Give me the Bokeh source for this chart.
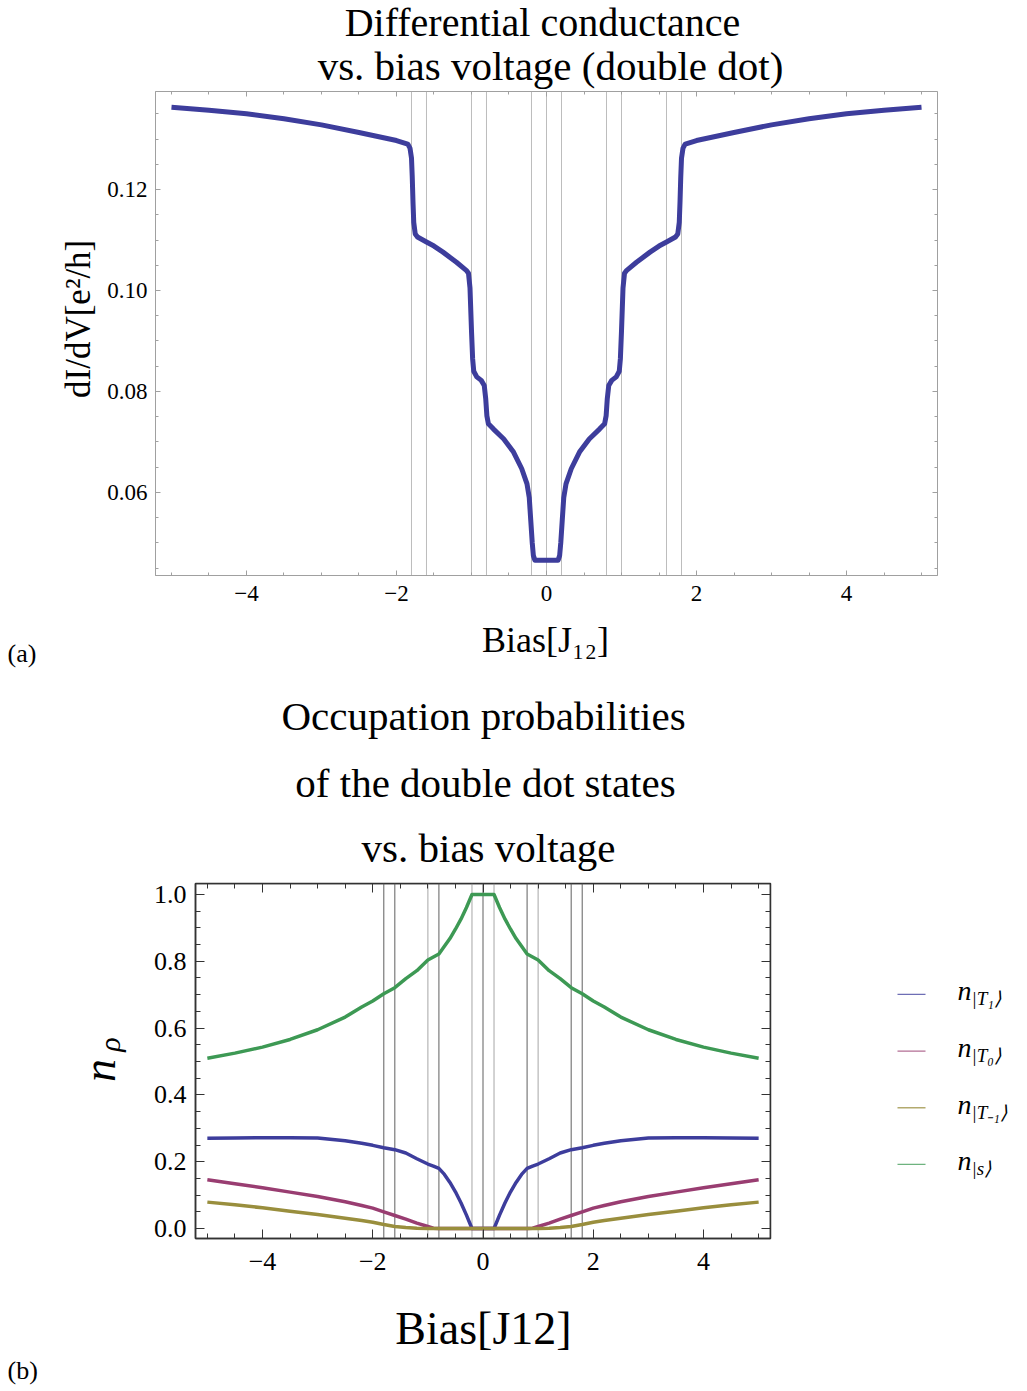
import math
from bokeh.plotting import figure
from bokeh.models import (Range1d, LinearAxis, SingleIntervalTicker, PrintfTickFormatter,
                          Span, Label)
from bokeh.layouts import column, row
from bokeh.embed import file_html
from bokeh.resources import INLINE

# ---------------- data: (a) differential conductance ----------------
bias_a = [-5.0, -4.5, -4.0, -3.5, -3.0, -2.5, -2.0, -1.85, -1.82, -1.80, -1.79, -1.78, -1.77,
          -1.75, -1.72, -1.6, -1.5, -1.38, -1.2, -1.07, -1.04, -1.02, -1.00, -0.985, -0.97,
          -0.93, -0.87, -0.83, -0.81, -0.795, -0.775, -0.71, -0.57, -0.44, -0.33, -0.26,
          -0.23, -0.21, -0.19, -0.175, -0.155,
          0.155, 0.175, 0.19, 0.21, 0.23, 0.26, 0.33, 0.44, 0.57, 0.71, 0.775, 0.795, 0.81,
          0.83, 0.87, 0.93, 0.97, 0.985, 1.00, 1.02, 1.04, 1.07, 1.2, 1.38, 1.5, 1.6, 1.72,
          1.75, 1.77, 1.78, 1.79, 1.80, 1.82, 1.85, 2.0, 2.5, 3.0, 3.5, 4.0, 4.5, 5.0]
dIdV = [0.1363, 0.1357, 0.1350, 0.1340, 0.1328, 0.1313, 0.1297, 0.1290, 0.1282, 0.1262, 0.1225,
        0.1175, 0.1135, 0.1112, 0.1106, 0.1096, 0.1088, 0.1076, 0.1056, 0.1040, 0.1034, 0.1005,
        0.0920, 0.0865, 0.0840, 0.0829, 0.0822, 0.0812, 0.0785, 0.0752, 0.0736, 0.0726, 0.0706,
        0.0680, 0.0647, 0.0617, 0.0590, 0.0545, 0.0500, 0.0475, 0.0466,
        0.0466, 0.0475, 0.0500, 0.0545, 0.0590, 0.0617, 0.0647, 0.0680, 0.0706, 0.0726, 0.0736,
        0.0752, 0.0785, 0.0812, 0.0822, 0.0829, 0.0840, 0.0865, 0.0920, 0.1005, 0.1034, 0.1040,
        0.1056, 0.1076, 0.1088, 0.1096, 0.1106, 0.1112, 0.1135, 0.1175, 0.1225, 0.1262, 0.1282,
        0.1290, 0.1297, 0.1313, 0.1328, 0.1340, 0.1350, 0.1357, 0.1363]

# transition energies marked by vertical lines
transitions = [-1.8, -1.6, -1.0, -0.8, -0.2, 0.0, 0.2, 0.8, 1.0, 1.6, 1.8]

# ---------------- data: (b) occupation probabilities ----------------
bias_b = [-5.0, -4.5, -4.0, -3.5, -3.0, -2.5, -2.2, -2.0, -1.8, -1.6, -1.4, -1.2, -1.0, -0.9,
          -0.8, -0.7, -0.6, -0.5, -0.4, -0.3, -0.2, 0.0, 0.2, 0.3, 0.4, 0.5, 0.6, 0.7, 0.8,
          0.9, 1.0, 1.2, 1.4, 1.6, 1.8, 2.0, 2.2, 2.5, 3.0, 3.5, 4.0, 4.5, 5.0]
n_T1 = [0.270, 0.271, 0.272, 0.272, 0.271, 0.263, 0.255, 0.249, 0.242, 0.236, 0.226, 0.209,
        0.193, 0.187, 0.180, 0.162, 0.138, 0.110, 0.077, 0.040, 0.0, 0.0, 0.0, 0.040, 0.077,
        0.110, 0.138, 0.162, 0.180, 0.187, 0.193, 0.209, 0.226, 0.236, 0.242, 0.249, 0.255,
        0.263, 0.271, 0.272, 0.272, 0.271, 0.270]
n_T0 = [0.146, 0.134, 0.122, 0.109, 0.096, 0.080, 0.069, 0.061, 0.050, 0.039, 0.028, 0.016,
        0.006, 0.001, 0.0, 0.0, 0.0, 0.0, 0.0, 0.0, 0.0, 0.0, 0.0, 0.0, 0.0, 0.0, 0.0, 0.0,
        0.0, 0.001, 0.006, 0.016, 0.028, 0.039, 0.050, 0.061, 0.069, 0.080, 0.096, 0.109,
        0.122, 0.134, 0.146]
n_Tm1 = [0.079, 0.071, 0.062, 0.052, 0.042, 0.031, 0.024, 0.019, 0.012, 0.006, 0.003, 0.001,
         0.0, 0.0, 0.0, 0.0, 0.0, 0.0, 0.0, 0.0, 0.0, 0.0, 0.0, 0.0, 0.0, 0.0, 0.0, 0.0, 0.0,
         0.0, 0.0, 0.001, 0.003, 0.006, 0.012, 0.019, 0.024, 0.031, 0.042, 0.052, 0.062,
         0.071, 0.079]
n_S = [0.510, 0.525, 0.543, 0.566, 0.595, 0.633, 0.663, 0.681, 0.703, 0.721, 0.748, 0.772,
       0.804, 0.813, 0.822, 0.845, 0.868, 0.896, 0.926, 0.961, 1.0, 1.0, 1.0, 0.961, 0.926,
       0.896, 0.868, 0.845, 0.822, 0.813, 0.804, 0.772, 0.748, 0.721, 0.703, 0.681, 0.663,
       0.633, 0.595, 0.566, 0.543, 0.525, 0.510]
legend_subs = ["|T\u2081\u27e9", "|T\u2080\u27e9", "|T\u208b\u2081\u27e9", "|s\u27e9"]

BLUE, MAG, OLIVE, GREEN = "#3d3d9c", "#993d71", "#998e3d", "#3d9954"
SERIF = "Liberation Serif"
MID = 0.36  # distance (in em) from the alphabetic baseline up to the text middle


def base_fig(w, h, **kw):
    f = figure(width=w, height=h, output_backend="svg", toolbar_location=None, title=None, **kw)
    f.background_fill_color = "white"
    f.border_fill_color = "white"
    return f


def strip(w, h, x0, y0):
    """A text-only panel whose data coordinates equal page pixels."""
    f = base_fig(w, h, x_range=Range1d(x0, x0 + w), y_range=Range1d(y0 + h, y0),
                 x_axis_type=None, y_axis_type=None,
                 min_border=0, min_border_left=0, min_border_right=0,
                 min_border_top=0, min_border_bottom=0)
    f.grid.visible = False
    f.outline_line_color = None
    return f


def lab(p, x, y, text, size, align="center", angle=0.0, style="normal", yfix=0.0):
    """Place text whose alphabetic baseline is at page y (horizontal) or page x (rotated)."""
    if angle == 0.0:
        y = y - MID * size
    else:
        x = x - MID * size
        y = y + yfix
    p.add_layout(Label(x=x, y=y, text=text, text_font=SERIF, text_font_size=f"{size}px",
                       text_align=align, text_baseline="middle", angle=angle,
                       text_font_style=style, text_color="black"))


def setup_axes(p, xr, yr, xint, yint, yfmt, col, lw, tin, tmin, fsize, so_x, so_y):
    bx = p.xaxis[0]
    ly = p.yaxis[0]
    bx.ticker = SingleIntervalTicker(interval=xint, num_minor_ticks=4)
    ly.ticker = SingleIntervalTicker(interval=yint, num_minor_ticks=4)
    bx.major_label_overrides = {-4: "\u22124", -2: "\u22122"}
    ly.formatter = PrintfTickFormatter(format=yfmt)
    bx.major_label_standoff = so_x
    ly.major_label_standoff = so_y
    top = LinearAxis(ticker=SingleIntervalTicker(interval=xint, num_minor_ticks=4),
                     fixed_location=yr[1])
    right = LinearAxis(ticker=SingleIntervalTicker(interval=yint, num_minor_ticks=4),
                       fixed_location=xr[1])
    p.add_layout(top, "above")
    p.add_layout(right, "right")
    for ax in (bx, ly, top, right):
        ax.axis_line_color = col
        ax.axis_line_width = lw
        ax.major_tick_line_color = col
        ax.minor_tick_line_color = col
        ax.major_tick_line_width = 1
        ax.minor_tick_line_width = 1
        ax.major_tick_in = tin
        ax.major_tick_out = 0
        ax.minor_tick_in = tmin
        ax.minor_tick_out = 0
        ax.major_label_text_font = SERIF
        ax.major_label_text_font_size = fsize
        ax.major_label_text_color = "black"
    for ax in (top, right):
        ax.major_label_text_color = None
    p.xgrid.grid_line_color = None
    p.ygrid.grid_line_color = None
    p.outline_line_color = col
    p.outline_line_width = lw


# ================= section (a) =================
XA = (-5.213, 5.213)
YA = (0.04356, 0.13941)

tA = strip(1027, 89, 0, 0)
lab(tA, 542, 36, "Differential conductance", 40)
lab(tA, 550, 80, "vs. bias voltage (double dot)", 41)

sA = strip(97, 528, 0, 89)
lab(sA, 91, 320, "dI/dV[e\u00b2/h]", 35, angle=math.pi / 2, yfix=17)

pA = base_fig(930, 528, x_range=Range1d(*XA), y_range=Range1d(*YA),
              min_border_left=58, min_border_right=90, min_border_top=2, min_border_bottom=42)
setup_axes(pA, XA, YA, 2, 0.02, "%.2f", "#a0a0a0", 1, 5, 3, "23px", 10, 8)
for v in transitions:
    pA.add_layout(Span(location=v, dimension="height", line_color="#bdbdbd",
                       line_width=1, level="underlay"))
pA.line(bias_a, dIdV, line_color=BLUE, line_width=5, line_join="round")

bA = strip(1027, 73, 0, 617)
lab(bA, 545, 652, "Bias[J\u2081\u2082]", 36)
lab(bA, 7, 662, "(a)", 26, align="left")

secA = column(tA, row(sA, pA, spacing=0), bA, spacing=0)

# ================= section (b) =================
XB = (-5.215, 5.215)
YB = (-0.0299, 1.0329)

tB = strip(1027, 188, 0, 690)
lab(tB, 483, 730, "Occupation probabilities", 41)
lab(tB, 485, 797, "of the double dot states", 41)
lab(tB, 488, 862, "vs. bias voltage", 41)

sB = strip(130, 410, 0, 878)
lab(sB, 116, 1072, "n", 46, angle=math.pi / 2, style="italic", yfix=22)
lab(sB, 120, 1045, "\u03c1", 30, angle=math.pi / 2, style="italic", yfix=19)

pB = base_fig(650, 410, x_range=Range1d(*XB), y_range=Range1d(*YB),
              min_border_left=65, min_border_right=10, min_border_top=5, min_border_bottom=50)
setup_axes(pB, XB, YB, 2, 0.2, "%.1f", "#333333", 1.5, 9, 5, "26px", 14, 9)
light = {-1.0, -0.2, 0.2, 1.0}
for v in transitions:
    pB.add_layout(Span(location=v, dimension="height",
                       line_color="#b5b5b5" if v in light else "#7a7a7a",
                       line_width=1.2, level="underlay"))
for ys, c in ((n_T1, BLUE), (n_T0, MAG), (n_Tm1, OLIVE), (n_S, GREEN)):
    pB.line(bias_b, ys, line_color=c, line_width=3.5, line_join="round")

lB = strip(247, 410, 780, 878)
leg_y = [1006, 1071.5, 1137, 1202.5]
for yy, c, sub in zip(leg_y, (BLUE, MAG, OLIVE, GREEN), legend_subs):
    lB.line([897, 925], [yy, yy], line_color=c, line_width=1.3, line_alpha=0.75)
    lab(lB, 957, yy + 6, "n", 28, align="left", style="italic")
    lab(lB, 971, yy + 12, sub, 19, align="left", style="italic")

bB = strip(1027, 103, 0, 1288)
lab(bB, 483, 1345, "Bias[J12]", 46)
lab(bB, 7, 1379, "(b)", 26, align="left")

secB = column(tB, row(sB, pB, lB, spacing=0), bB, spacing=0)

layout = column(secA, secB, spacing=0)
open("out.html", "w").write(file_html(layout, INLINE))
